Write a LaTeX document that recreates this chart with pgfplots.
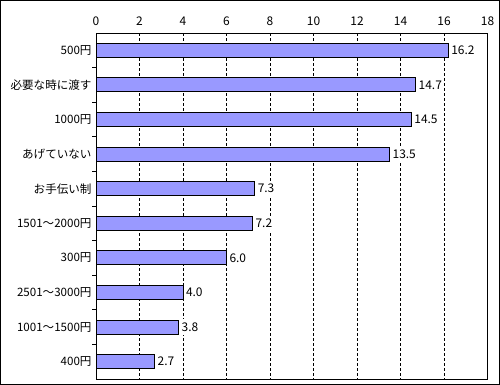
\documentclass[border=0pt]{standalone}
\usepackage{fontspec}
\setmainfont{Noto Sans CJK JP}
\usepackage{pgfplots}
\pgfplotsset{compat=1.18}
\definecolor{barfill}{HTML}{9999FF}
\begin{document}
\begin{tikzpicture}
\path[use as bounding box] (0,0) rectangle (500bp,385bp);
\draw[black, line width=1bp] (0.5bp,0.5bp) rectangle (499.5bp,384.5bp);
\begin{axis}[
  at={(96bp,6bp)}, anchor=south west,
  scale only axis, width=391.5bp, height=346bp,
  xmin=0, xmax=18, xtick={0,2,...,18},
  xticklabel pos=upper,
  ymin=-0.5, ymax=9.5, y dir=reverse,
  ytick={0,...,9},
  yticklabels={500円,必要な時に渡す,1000円,あげていない,お手伝い制,1501～2000円,300円,2501～3000円,1001～1500円,400円},
  ytick pos=left,
  minor ytick={0.5,1.5,...,8.5},
  minor tick length=3.5bp,
  tick align=inside,
  major tick length=0pt,
  xmajorgrids,
  grid style={black, dash pattern=on 3bp off 2bp, line width=0.8bp},
  axis line style={line width=1bp},
  minor y tick style={black, line width=1bp},
  tick label style={font=\fontsize{12}{13}\selectfont},
  yticklabel style={font=\fontsize{11.6}{13}\selectfont},
  /pgf/number format/assume math mode=true,
  every x tick label/.append style={yshift=4bp},
  every y tick label/.append style={xshift=-1bp},
  xbar, bar width=14bp,
  nodes near coords,
  every node near coord/.append style={font=\fontsize{12}{13}\selectfont,
    fill=white, inner xsep=1bp, xshift=1.5bp,
    /pgf/number format/fixed, /pgf/number format/fixed zerofill, /pgf/number format/precision=1,
    /pgf/number format/assume math mode=true},
]
\addplot[fill=barfill, draw=black, line width=1bp] coordinates {
(16.2,0) (14.7,1) (14.5,2) (13.5,3) (7.3,4) (7.2,5) (6.0,6) (4.0,7) (3.8,8) (2.7,9)
};
\end{axis}
\end{tikzpicture}
\end{document}
